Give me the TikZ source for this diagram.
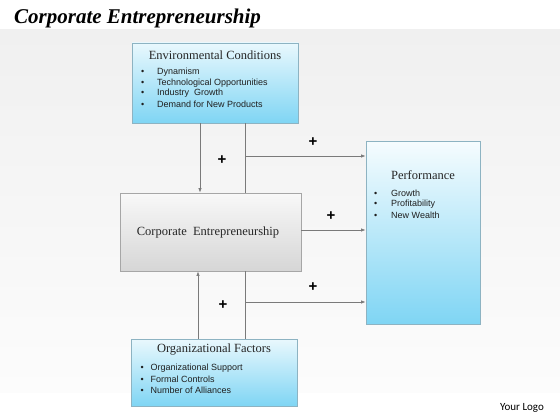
\documentclass[tikz,border=0pt]{standalone}
\usepackage{fontspec}
\setmainfont{Liberation Serif}
\newfontfamily\bulletfont{Liberation Sans}
\newfontfamily\logofont{Carlito}
\usetikzlibrary{arrows.meta,shadows}
\definecolor{boxborder}{HTML}{8DB3C2}
\definecolor{cyantop}{HTML}{E9F8FD}
\definecolor{cyanbot}{HTML}{7FD5F4}
\definecolor{linegray}{HTML}{7A7A7A}
\definecolor{greytop}{HTML}{F8F8F8}
\definecolor{greybot}{HTML}{D6D6D6}
\definecolor{bgtop}{HTML}{F0F0F0}
\definecolor{bgbot}{HTML}{FCFCFC}
\tikzset{
  bluebox/.style={draw=boxborder, line width=0.9pt, top color=cyantop, bottom color=cyanbot,
    minimum width=#1, inner sep=0pt, drop shadow={shadow xshift=1.2pt, shadow yshift=-1.2pt, opacity=0.25}},
  greybox/.style={draw=gray!70, line width=0.9pt, top color=greytop, bottom color=greybot,
    inner sep=0pt, drop shadow={shadow xshift=1.2pt, shadow yshift=-1.2pt, opacity=0.25}},
  boxtitle/.style={font=\fontsize{12.5}{14}\selectfont, text=black!85, inner sep=0pt},
  bul/.style={font=\bulletfont\fontsize{9}{10}\selectfont, text=black!88, inner sep=0pt, anchor=west},
  conn/.style={draw=linegray, line width=0.7pt},
  arr/.style={conn, -{Latex[length=4.5pt,width=3.5pt]}},
  plus/.style={font=\bulletfont\bfseries\fontsize{15}{15}\selectfont, inner sep=0pt},
}
\begin{document}
\begin{tikzpicture}[x=1pt,y=-1pt]
\useasboundingbox (0,0) rectangle (560,420);
\fill[white] (0,0) rectangle (560,420);
\shade[top color=bgtop, bottom color=bgbot] (0,30) rectangle (560,392);
% title
\node[anchor=west, inner sep=0pt, font=\bfseries\itshape\fontsize{21}{21}\selectfont] (title) at (14,18) {Corporate Entrepreneurship};
% boxes
\node[bluebox=166pt, minimum height=80pt] (EC) at (215,83) {};
\node[greybox, minimum width=181pt, minimum height=78pt] (CE) at (210.5,232) {};
\node[bluebox=114pt, minimum height=183pt, top color=white!60!cyantop] (PF) at (423,232.5) {};
\node[bluebox=166pt, minimum height=67pt] (OF) at (214,372.5) {};
% box texts
\node[boxtitle] (ECt) at (215,55) {Environmental Conditions};
\node[bul] (ec1) at (141,72) {\makebox[16pt][l]{•}Dynamism};
\node[bul] (ec2) at (141,82.8) {\makebox[16pt][l]{•}Technological Opportunities};
\node[bul] (ec3) at (141,93.6) {\makebox[16pt][l]{•}Industry\ \ Growth};
\node[bul] (ec4) at (141,104.4) {\makebox[16pt][l]{•}Demand for New Products};
\node[boxtitle] (CEt) at (208,232) {Corporate\ \ Entrepreneurship};
\node[boxtitle] (PFt) at (423,175) {Performance};
\node[bul] (pf1) at (374,193) {\makebox[17pt][l]{•}Growth};
\node[bul] (pf2) at (374,204) {\makebox[17pt][l]{•}Profitability};
\node[bul] (pf3) at (374,215) {\makebox[17pt][l]{•}New Wealth};
\node[boxtitle] (OFt) at (214,350) {Organizational Factors};
\node[bul] (of1) at (140.5,368) {\makebox[10pt][l]{•}Organizational\ Support};
\node[bul] (of2) at (140.5,379) {\makebox[10pt][l]{•}Formal Controls};
\node[bul] (of3) at (140.5,390) {\makebox[10pt][l]{•}Number of Alliances};
% connectors
\coordinate (j1) at (245,156);
\coordinate (j2) at (245,302);
\draw[arr] (EC.south -| 200,0) -- (CE.north -| 200,0);
\draw[conn] (EC.south -| j1) -- (CE.north -| j1);
\draw[arr] (j1) -- (PF.west |- j1);
\draw[arr] (CE.east |- 0,230) -- (PF.west |- 0,230);
\draw[arr] (OF.north -| 198,0) -- (CE.south -| 198,0);
\draw[conn] (CE.south -| j2) -- (OF.north -| j2);
\draw[arr] (j2) -- (PF.west |- j2);
% plus signs
\node[plus] (p1) at (222,160) {+};
\node[plus] (p2) at (313,142) {+};
\node[plus] (p3) at (331,216) {+};
\node[plus] (p4) at (313,287) {+};
\node[plus] (p5) at (223,305) {+};
% logo
\node[font=\logofont\fontsize{11}{12}\selectfont, inner sep=0pt] (logo) at (522,408) {Your Logo};
\end{tikzpicture}
\end{document}
